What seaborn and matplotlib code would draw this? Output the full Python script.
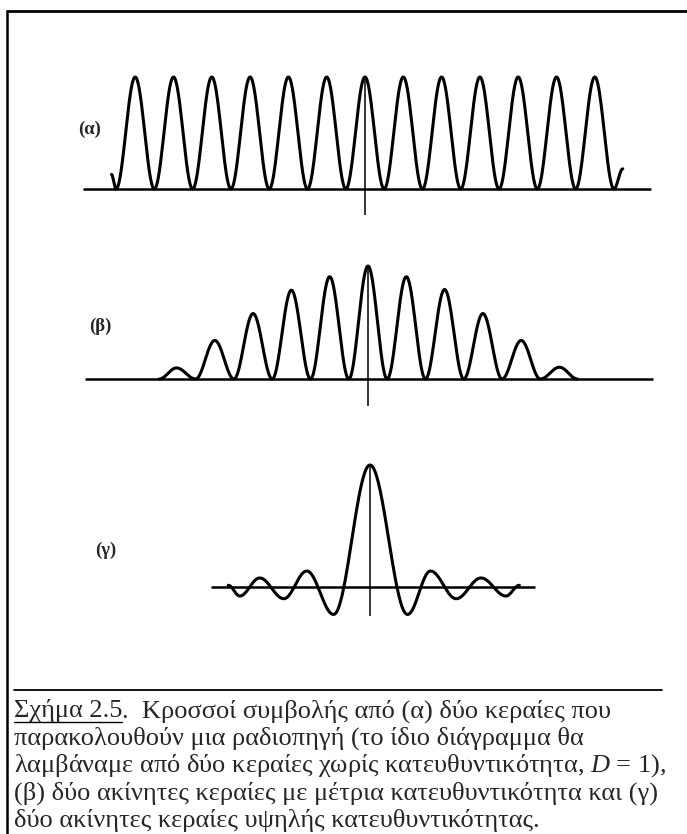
import numpy as np
import pandas as pd
import matplotlib
matplotlib.use("Agg")
import matplotlib.pyplot as plt
import seaborn as sns
from matplotlib.lines import Line2D

W, H = 687, 834

# ---- data (x in fringe periods, y relative to central peak) ----
# Panel (α): turning points of the fringe pattern
a_x = [-6.62, -6.5, -6.0, -5.5, -5.0, -4.5, -4.0, -3.5, -3.0, -2.5, -2.0, -1.5, -1.0, -0.5,
       0.0, 0.5, 1.0, 1.5, 2.0, 2.5, 3.0, 3.5, 4.0, 4.5, 5.0, 5.5, 6.0, 6.5, 6.73]
a_y = [0.13, 0.0, 1.0, 0.0, 1.0, 0.0, 1.0, 0.0, 1.0, 0.0, 1.0, 0.0, 1.0, 0.0,
       1.0, 0.0, 1.0, 0.0, 1.0, 0.0, 1.0, 0.0, 1.0, 0.0, 1.0, 0.0, 1.0, 0.0, 0.18]
a_axis = [-7.37, 7.48]

# Panel (β): turning points
b_x = [-5.45, -5.0, -4.5, -4.0, -3.5, -3.0, -2.5, -2.0, -1.5, -1.0, -0.5,
       0.0, 0.5, 1.0, 1.5, 2.0, 2.5, 3.0, 3.5, 4.0, 4.5, 5.0, 5.47]
b_y = [0.0, 0.098, 0.0, 0.341, 0.0, 0.579, 0.0, 0.786, 0.0, 0.905, 0.0,
       1.0, 0.0, 0.905, 0.0, 0.792, 0.0, 0.579, 0.0, 0.341, 0.0, 0.104, 0.0]
b_axis = [-7.40, 7.45]

# Panel (γ): turning points
g_x = [-3.70, -3.40, -2.88, -2.25, -1.65, -0.95, 0.0, 0.98, 1.58, 2.25, 2.90, 3.55, 3.90]
g_y = [0.014, -0.074, 0.074, -0.096, 0.131, -0.225, 1.0, -0.225, 0.131, -0.096, 0.074, -0.074, 0.014]
g_axis = [-4.15, 4.30]

labels = ["(α)", "(β)", "(γ)"]
stem_bottom = [-0.232, -0.24, -0.24]

caption_head = "Σχήμα 2.5"
caption_rest = ".  Κροσσοί συμβολής από (α) δύο κεραίες που"
caption_lines = [
    "παρακολουθούν μια ραδιοπηγή (το ίδιο διάγραμμα θα",
    "λαμβάναμε από δύο κεραίες χωρίς κατευθυντικότητα, $D$ = 1),",
    "(β) δύο ακίνητες κεραίες με μέτρια κατευθυντικότητα και (γ)",
    "δύο ακίνητες κεραίες υψηλής κατευθυντικότητας.",
]


def smooth_through(xs, ys, n=40):
    """Draw a smooth curve through successive turning points (cosine easing)."""
    X, Y = [], []
    for i in range(len(xs) - 1):
        t = np.linspace(0, 1, n, endpoint=False)
        e = (1 - np.cos(np.pi * t)) / 2
        X.extend(xs[i] + (xs[i + 1] - xs[i]) * t)
        Y.extend(ys[i] + (ys[i + 1] - ys[i]) * e)
    X.append(xs[-1]); Y.append(ys[-1])
    return pd.DataFrame({"x": X, "y": Y})


sns.set_theme(style="white")
plt.rcParams["font.family"] = ["Liberation Serif", "DejaVu Serif"]
plt.rcParams["mathtext.fontset"] = "custom"
plt.rcParams["mathtext.rm"] = "Liberation Serif"
plt.rcParams["mathtext.it"] = "Liberation Serif:italic"

fig = plt.figure(figsize=(W / 100, H / 100), dpi=100)
fig.patch.set_facecolor("white")

ux = 38.3  # px per fringe period
panels = [
    dict(xs=a_x, ys=a_y, axis=a_axis, cx=365, base=189, uy=112, top=40, bot=240, lab=(90, 129)),
    dict(xs=b_x, ys=b_y, axis=b_axis, cx=368, base=379, uy=113, top=240, bot=440, lab=(100, 326)),
    dict(xs=g_x, ys=g_y, axis=g_axis, cx=370, base=587, uy=122, top=440, bot=660, lab=(106, 550)),
]

for i, p in enumerate(panels):
    ax = fig.add_axes([0, 1 - p["bot"] / H, 1, (p["bot"] - p["top"]) / H])
    ax.set_xlim(-p["cx"] / ux, (W - p["cx"]) / ux)
    ax.set_ylim((p["base"] - p["bot"]) / p["uy"], (p["base"] - p["top"]) / p["uy"])
    ax.set_axis_off()
    df = smooth_through(p["xs"], p["ys"])
    sns.lineplot(data=df, x="x", y="y", ax=ax, color="black", linewidth=2.2,
                 sort=False, estimator=None)
    ax.hlines(0, p["axis"][0], p["axis"][1], color="black", linewidth=1.8)
    ax.vlines(0, stem_bottom[i], max(p["ys"]), color="black", linewidth=1.1)
    fig.text(p["lab"][0] / W, 1 - p["lab"][1] / H, labels[i], ha="center", va="center",
             fontsize=13.5, fontweight="bold")

# frame (top and left rules)
fig.add_artist(Line2D([7 / W, 1], [1 - 11 / H] * 2, color="black", linewidth=2.0))
fig.add_artist(Line2D([7 / W] * 2, [1 - 11 / H, 0], color="black", linewidth=1.8))
# caption rule
fig.add_artist(Line2D([14 / W, 662 / W], [1 - 690 / H] * 2, color="black", linewidth=1.3))

fs = 19
x0 = 14 / W
line_y = [711, 738.5, 766, 793.5, 820]
t_head = fig.text(x0, 1 - line_y[0] / H, caption_head, fontsize=fs, va="center", ha="left")
fig.canvas.draw()
r = fig.canvas.get_renderer()
bb = t_head.get_window_extent(r)
fig.text(bb.x1 / W, 1 - line_y[0] / H, caption_rest, fontsize=fs, va="center", ha="left")
uy_px = H - (line_y[0] + 11)
fig.add_artist(Line2D([bb.x0 / W, bb.x1 / W], [uy_px / H] * 2, color="black", linewidth=1.0))
for k, s in enumerate(caption_lines):
    fig.text(x0, 1 - line_y[k + 1] / H, s, fontsize=fs, va="center", ha="left")

fig.savefig("out.png", dpi=100, facecolor="white")
